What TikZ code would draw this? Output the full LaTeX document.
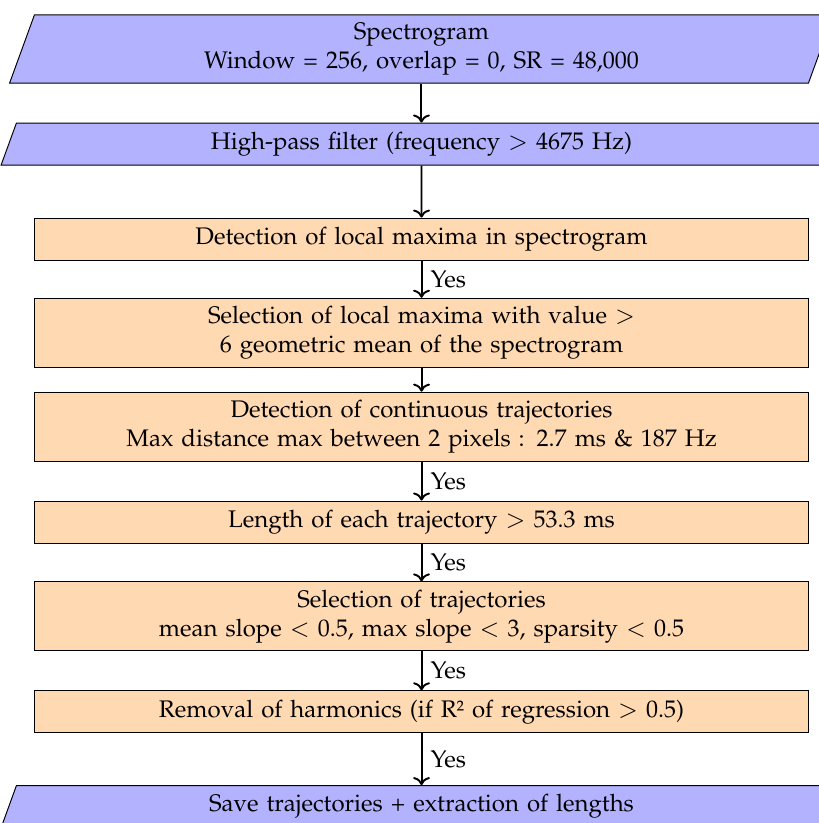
\documentclass[tikz,border=0pt]{standalone}
\usepackage[T1]{fontenc}
\usepackage{textcomp}
\usepackage{mathpazo}
\usepackage{xcolor}
\usepackage{tikz}
\usetikzlibrary{arrows.meta,positioning,shapes.geometric}

\begin{document}
\begin{tikzpicture}[
  node distance=16.25pt,
  io/.style={trapezium, trapezium left angle=70, trapezium right angle=110,
    draw, fill=blue!30, text width=316.5pt, inner xsep=3pt,
    align=center, minimum height=17.5pt},
  proc/.style={rectangle, draw, fill=orange!30, text width=316.5pt,
    inner xsep=3pt, align=center, minimum height=17.5pt},
  arrow/.style={->, thick},
  yes/.style={right}
]
  \useasboundingbox (-175.6pt,20.4pt) rectangle (165.6pt,-322.5pt);
  \clip (-175.6pt,20.4pt) rectangle (165.6pt,-322.5pt);

  \node[io] (spec) at (0,0) {Spectrogram\\Window = 256, overlap = 0, SR = 48,000};
  \node[io, below=of spec] (hpf) {High-pass filter (frequency $>$ 4675 Hz)};
  \node[proc, below=21.7pt of hpf] (locmax) {Detection of local maxima in spectrogram};
  \node[proc, below=15.5pt of locmax] (selmax) {Selection of local maxima with value $>$\\6 geometric mean of the spectrogram};
  \node[proc, below=10pt of selmax] (traj) {Detection of continuous trajectories\\Max distance max between 2 pixels : 2.7 ms \& 187 Hz};
  \node[proc, below=of traj] (len) {Length of each trajectory $>$ 53.3 ms};
  \node[proc, below=15.8pt of len] (seltraj) {Selection of trajectories\\mean slope $<$ 0.5, max slope $<$ 3, sparsity $<$ 0.5};
  \node[proc, below=16.25pt of seltraj] (harm) {Removal of harmonics (if R\texttwosuperior{} of regression $>$ 0.5)};
  \node[io, below=21.6pt of harm] (save) {Save trajectories + extraction of lengths};

  \draw[arrow] (spec.south -| spec.center) -- (hpf.north -| spec.center);
  \draw[arrow] (hpf.south -| hpf.center) -- (locmax);
  \draw[arrow] (locmax) -- node[yes]{Yes} (selmax);
  \draw[arrow] (selmax) -- (traj);
  \draw[arrow] (traj) -- node[yes]{Yes} (len);
  \draw[arrow] (len) -- node[yes]{Yes} (seltraj);
  \draw[arrow] (seltraj) -- node[yes]{Yes} (harm);
  \draw[arrow] (harm) -- node[yes]{Yes} (save.north -| harm.center);
\end{tikzpicture}
\end{document}
